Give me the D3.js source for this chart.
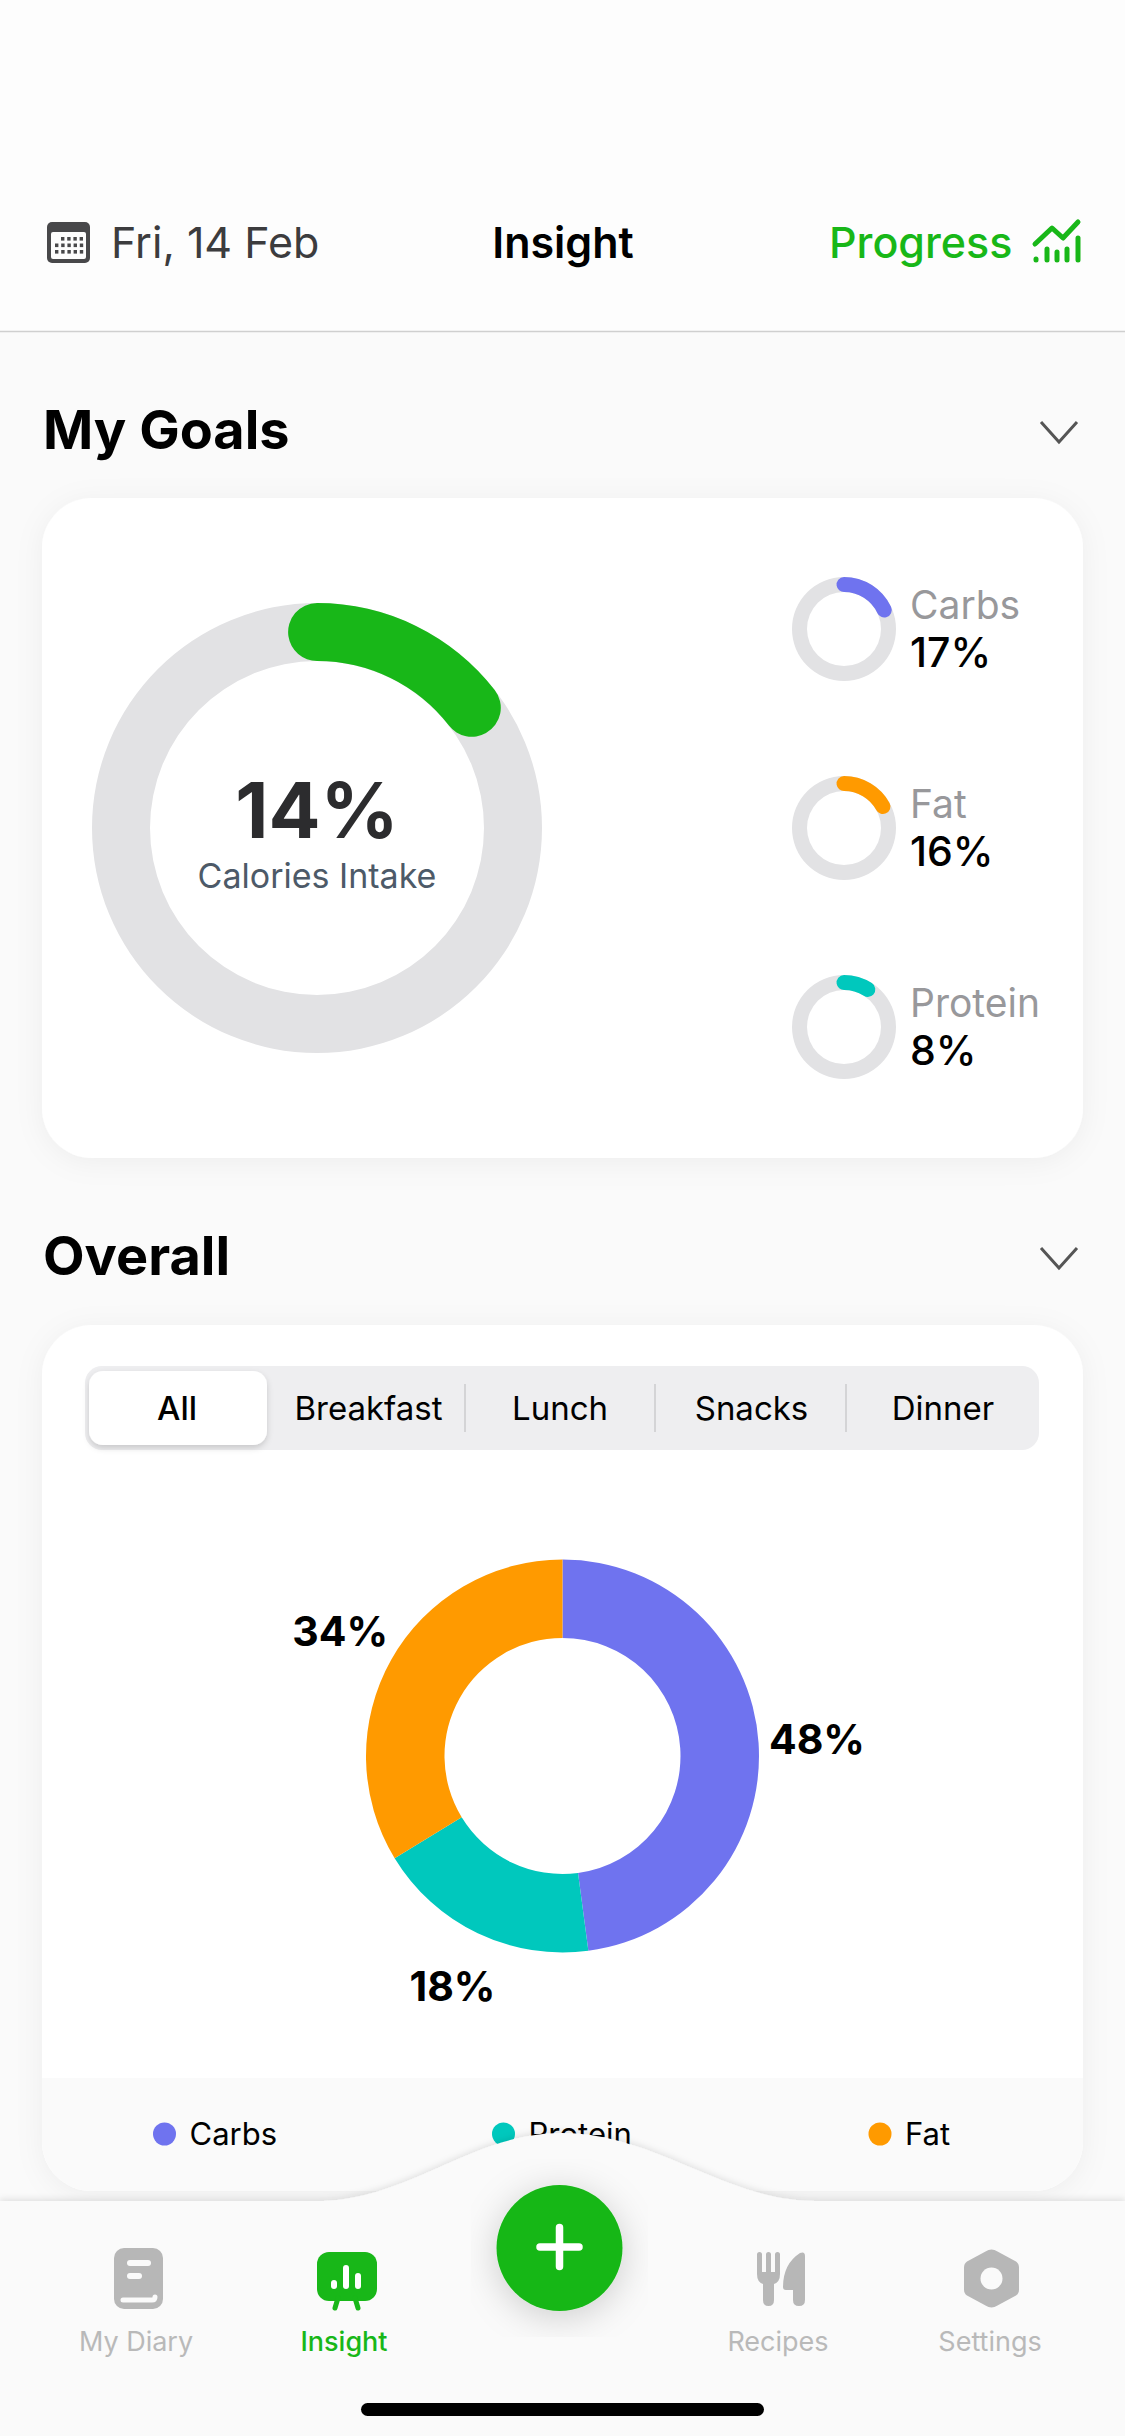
<!DOCTYPE html>
<html>
<head>
<meta charset="utf-8">
<script src="https://cdn.jsdelivr.net/npm/d3@7"></script>
<style>
  html, body { margin: 0; padding: 0; background: #fafafa; }
  svg { display: block; }
  text { font-family: Inter, "Noto Sans", sans-serif; }
</style>
</head>
<body>
<div id="chart"></div>
<script>
// values
var goalNames = ["Carbs", "Fat", "Protein"];
var goalValues = [17, 16, 8];
var goalSweeps = [18, 17, 9];       // arc length as drawn runs a little past the label
var caloriesValue = 14;
var caloriesSweep = 14.5;
var caloriesLabel = "Calories Intake";

var overallNames = ["Carbs", "Protein", "Fat"];
var overallValues = [47.9, 18.4, 33.7];

var tabLabels = ["All", "Breakfast", "Lunch", "Snacks", "Dinner"];
var navLabels = ["My Diary", "Insight", "Recipes", "Settings"];

var GREEN = "#18b718";
var TRACK = "#e2e2e4";
var macroColor = d3.scaleOrdinal()
  .domain(["Carbs", "Protein", "Fat"])
  .range(["#6f73ef", "#00c8bd", "#ff9a00"]);

var svg = d3.select("#chart").append("svg")
  .attr("width", 1125)
  .attr("height", 2436)
  .attr("viewBox", "0 0 1125 2436");

var defs = svg.append("defs");

var addShadow = function(id, dy, blur, opacity) {
  var f = defs.append("filter").attr("id", id)
    .attr("x", "-20%").attr("y", "-20%").attr("width", "140%").attr("height", "140%");
  f.append("feDropShadow")
    .attr("dx", 0).attr("dy", dy)
    .attr("stdDeviation", blur)
    .attr("flood-color", "#000")
    .attr("flood-opacity", opacity);
};
addShadow("cardShadow", 4, 14, 0.05);
addShadow("fabShadow", 6, 18, 0.18);
addShadow("tabShadow", 3, 3, 0.16);
addShadow("barShadow", -2, 3, 0.1);

var label = function(parent, x, y, str, size, weight, color, anchor) {
  return parent.append("text")
    .attr("x", x).attr("y", y)
    .attr("font-size", size)
    .attr("font-weight", weight)
    .attr("fill", color)
    .attr("text-anchor", anchor || "start")
    .text(str);
};

// page background
svg.append("rect").attr("width", 1125).attr("height", 331).attr("fill", "#fdfdfd");
svg.append("rect").attr("y", 331).attr("width", 1125).attr("height", 2105).attr("fill", "#fafafa");
svg.append("line").attr("x1", 0).attr("x2", 1125).attr("y1", 331.5).attr("y2", 331.5)
  .attr("stroke", "#cfcfcf").attr("stroke-width", 1.5);

// header
var cal = svg.append("g").attr("transform", "translate(47,222)");
cal.append("rect").attr("width", 43).attr("height", 41).attr("rx", 5).attr("fill", "#48484a");
cal.append("rect").attr("x", 4).attr("y", 10).attr("width", 35).attr("height", 27).attr("rx", 2).attr("fill", "#fdfdfd");
d3.range(3).forEach(function(row) {
  d3.range(row === 0 ? 4 : 5).forEach(function(col) {
    cal.append("rect")
      .attr("x", (row === 0 ? 14 : 8) + col * 6.2).attr("y", 15 + row * 6.5)
      .attr("width", 3.4).attr("height", 3.6).attr("fill", "#48484a");
  });
});

label(svg, 111, 258, "Fri, 14 Feb", 43, 400, "#3c3c3e");
label(svg, 563, 258, "Insight", 43, 600, "#000", "middle");
label(svg, 829, 258, "Progress", 43, 500, GREEN);

var prog = svg.append("g").attr("transform", "translate(1010,200)");
prog.append("path").attr("d", "M25,44 L42,28 L53,38 L68,22")
  .attr("fill", "none").attr("stroke", GREEN).attr("stroke-width", 5)
  .attr("stroke-linecap", "round").attr("stroke-linejoin", "round");
[[26, 59], [37, 49], [47, 52], [57, 49], [68, 38]].forEach(function(b) {
  prog.append("line").attr("x1", b[0]).attr("x2", b[0]).attr("y1", b[1]).attr("y2", 60)
    .attr("stroke", GREEN).attr("stroke-width", 5).attr("stroke-linecap", "round");
});

var chevron = function(y) {
  svg.append("path")
    .attr("d", "M1041," + y + " L1059," + (y + 20) + " L1077," + y)
    .attr("fill", "none").attr("stroke", "#555").attr("stroke-width", 3);
};

// my goals card
label(svg, 43, 449, "My Goals", 54, 700, "#000");
chevron(422);
svg.append("rect").attr("x", 42).attr("y", 498).attr("width", 1041).attr("height", 660)
  .attr("rx", 50).attr("fill", "#fff").attr("filter", "url(#cardShadow)");

var angle = d3.scaleLinear().domain([0, 100]).range([0, 2 * Math.PI]);

// ring with a rounded progress arc whose caps stick out past the value
var drawRing = function(cx, cy, inner, outer, value, color) {
  var g = svg.append("g").attr("transform", "translate(" + cx + "," + cy + ")");
  var mid = (inner + outer) / 2;
  var half = (outer - inner) / 2;
  var cap = half / mid;
  g.append("path")
    .attr("d", d3.arc()({ innerRadius: inner, outerRadius: outer, startAngle: 0, endAngle: 2 * Math.PI }))
    .attr("fill", TRACK);
  g.append("path")
    .attr("d", d3.arc().cornerRadius(half)({
      innerRadius: inner, outerRadius: outer,
      startAngle: -cap, endAngle: angle(value) + cap
    }))
    .attr("fill", color);
};

drawRing(317, 828, 167, 225, caloriesSweep, GREEN);
label(svg, 317, 838, caloriesValue + "%", 77, 700, "#2c2c2e", "middle");
label(svg, 317, 888, caloriesLabel, 34, 400, "#4d5a68", "middle");

var goalY = d3.scalePoint().domain(goalNames).range([629, 1027]);
goalNames.forEach(function(name, i) {
  var y = goalY(name);
  drawRing(844, y, 37, 52, goalSweeps[i], macroColor(name));
  label(svg, 910, y - 10, name, 39, 400, "#98989b");
  label(svg, 910, y + 38, goalValues[i] + "%", 41, 500, "#000");
});

// overall card
label(svg, 43, 1275, "Overall", 54, 700, "#000");
chevron(1248);
svg.append("rect").attr("x", 42).attr("y", 1325).attr("width", 1041).attr("height", 866)
  .attr("rx", 50).attr("fill", "#fff").attr("filter", "url(#cardShadow)");

// tabs
svg.append("rect").attr("x", 85).attr("y", 1366).attr("width", 954).attr("height", 84)
  .attr("rx", 17).attr("fill", "#eeeef0");
svg.append("rect").attr("x", 89).attr("y", 1371).attr("width", 178).attr("height", 74)
  .attr("rx", 14).attr("fill", "#fff").attr("filter", "url(#tabShadow)");
var tabX = d3.scalePoint().domain(tabLabels).range([177, 943]);
tabLabels.forEach(function(t, i) {
  label(svg, tabX(t), 1420, t, 33, i === 0 ? 500 : 400, "#000", "middle");
});
[465, 655, 846].forEach(function(x) {
  svg.append("line").attr("x1", x).attr("x2", x).attr("y1", 1384).attr("y2", 1432)
    .attr("stroke", "#d4d4d6").attr("stroke-width", 2);
});

// overall donut, clockwise from twelve o'clock
var pie = d3.pie().sort(null);
var slices = pie(overallValues);
var donut = svg.append("g").attr("transform", "translate(562.5,1756)");
var sliceArc = d3.arc().innerRadius(118).outerRadius(196.5);
var labelArc = d3.arc().innerRadius(255).outerRadius(255);
donut.selectAll("path.slice").data(slices).enter().append("path")
  .attr("class", "slice")
  .attr("d", sliceArc)
  .attr("fill", function(d, i) { return macroColor(overallNames[i]); });
donut.selectAll("text.pct").data(slices).enter().append("text")
  .attr("class", "pct")
  .attr("x", function(d) { return labelArc.centroid(d)[0]; })
  .attr("y", function(d) { return labelArc.centroid(d)[1] + 15; })
  .attr("text-anchor", "middle")
  .attr("font-size", 41)
  .attr("font-weight", 700)
  .attr("fill", "#000")
  .text(function(d) { return Math.round(d.value) + "%"; });

// legend band sits in the bottom of the card
svg.append("path")
  .attr("d", "M42,2078 H1083 V2141 A50,50 0 0 1 1033,2191 H92 A50,50 0 0 1 42,2141 Z")
  .attr("fill", "#fafafa");
var legendDotX = d3.scaleOrdinal().domain(overallNames).range([164.5, 503.5, 880]);
overallNames.forEach(function(name) {
  var x = legendDotX(name);
  svg.append("circle").attr("cx", x).attr("cy", 2134).attr("r", 11.5).attr("fill", macroColor(name));
  label(svg, x + 25, 2145, name, 31, 400, "#000");
});

// tab bar with the hump
svg.append("path")
  .attr("d", "M0,2201 H316 C410,2201 470,2133 562,2133 C655,2133 725,2201 815,2201 H1125 V2436 H0 Z")
  .attr("fill", "#fafafa")
  .attr("filter", "url(#barShadow)");

svg.append("circle").attr("cx", 559.5).attr("cy", 2248).attr("r", 63)
  .attr("fill", GREEN).attr("filter", "url(#fabShadow)");
svg.append("path").attr("d", "M540,2247 H579 M559.5,2227.5 V2266.5")
  .attr("stroke", "#fff").attr("stroke-width", 7.5).attr("stroke-linecap", "round");

var NAV_GREY = "#b7b7b7";
var BAR_BG = "#fafafa";

// diary icon
var diary = svg.append("g").attr("transform", "translate(114,2248)");
diary.append("rect").attr("width", 49).attr("height", 61).attr("rx", 10).attr("fill", NAV_GREY);
diary.append("rect").attr("x", 13).attr("y", 12).attr("width", 24).attr("height", 6).attr("rx", 3).attr("fill", BAR_BG);
diary.append("rect").attr("x", 13).attr("y", 25).attr("width", 15).attr("height", 6).attr("rx", 3).attr("fill", BAR_BG);
diary.append("path").attr("d", "M9,52 H38 Q41,52 41,49")
  .attr("fill", "none").attr("stroke", BAR_BG).attr("stroke-width", 5).attr("stroke-linecap", "round");

// insight icon
var board = svg.append("g").attr("transform", "translate(317,2252)");
board.append("rect").attr("width", 60).attr("height", 49).attr("rx", 12).attr("fill", GREEN);
board.append("path").attr("d", "M21,46 L18,56 M38,46 L41,56")
  .attr("stroke", GREEN).attr("stroke-width", 5).attr("stroke-linecap", "round");
[[17, 31, 34], [29, 16, 34], [41, 24, 34]].forEach(function(b) {
  board.append("line").attr("x1", b[0]).attr("x2", b[0]).attr("y1", b[1]).attr("y2", b[2])
    .attr("stroke", "#fff").attr("stroke-width", 6).attr("stroke-linecap", "round");
});

// recipes icon
var fork = svg.append("g").attr("transform", "translate(757,2252)").attr("fill", NAV_GREY);
fork.append("path").attr("d", "M0,2.5 Q0,0 2.5,0 Q5,0 5,2.5 V20 H9 V2.5 Q9,0 11.5,0 Q14,0 14,2.5 V20 H18 V2.5 Q18,0 20.5,0 Q23,0 23,2.5 V22 Q23,30 17,32 V48 Q17,54 11.5,54 Q6,54 6,48 V32 Q0,30 0,22 Z");
fork.append("path").attr("d", "M43,1 Q48,-1 48,4 V48 Q48,54 42,54 Q36,54 36,48 V38 H29 Q26,38 26,35 Q26,12 43,1 Z");

// settings icon
var nut = svg.append("g").attr("transform", "translate(991.5,2278.5)");
nut.append("path")
  .attr("d", "M0,-29 Q3,-29 6,-27 L24.5,-17 Q27.5,-15 27.5,-11 V11 Q27.5,15 24.5,17 L6,27 Q3,29 0,29 Q-3,29 -6,27 L-24.5,17 Q-27.5,15 -27.5,11 V-11 Q-27.5,-15 -24.5,-17 L-6,-27 Q-3,-29 0,-29 Z")
  .attr("fill", NAV_GREY);
nut.append("circle").attr("r", 11).attr("fill", BAR_BG);

var navX = d3.scaleOrdinal().domain(navLabels).range([136, 344, 778, 990]);
navLabels.forEach(function(n) {
  label(svg, navX(n), 2351, n, 27, n === "Insight" ? 500 : 400, n === "Insight" ? GREEN : "#b9b9b9", "middle");
});

// home indicator
svg.append("rect").attr("x", 361).attr("y", 2403).attr("width", 403).attr("height", 13)
  .attr("rx", 6.5).attr("fill", "#000");
</script>
</body>
</html>
